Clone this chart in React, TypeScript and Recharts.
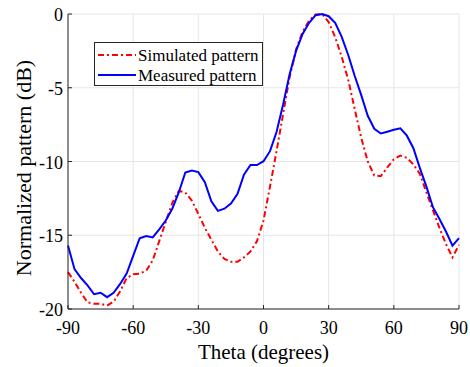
import React from "react";
import { LineChart, Line, XAxis, YAxis, CartesianGrid, Label } from "recharts";

const thetas = [-90,-87,-84,-81,-78,-75,-72,-69,-66,-63,-60,-57,-54,-51,-48,-45,-42,-39,-36,-33,-30,-27,-24,-21,-18,-15,-12,-9,-6,-3,0,3,6,9,12,15,18,21,24,27,30,33,36,39,42,45,48,51,54,57,60,63,66,69,72,75,78,81,84,87,90];
const measured = [-15.7,-17.3,-17.9,-18.4,-19.0,-18.9,-19.2,-18.9,-18.3,-17.6,-16.4,-15.2,-15.05,-15.15,-14.6,-14.0,-13.2,-12.1,-10.75,-10.62,-10.72,-11.4,-12.7,-13.35,-13.2,-12.85,-12.2,-10.9,-10.24,-10.24,-9.98,-9.3,-8.0,-6.15,-4.1,-2.5,-1.35,-0.6,-0.08,0,-0.15,-0.6,-1.55,-2.78,-4.2,-5.5,-6.9,-7.78,-8.1,-7.98,-7.85,-7.75,-8.25,-9.1,-10.45,-11.7,-13.1,-13.9,-14.75,-15.7,-15.2];
const simulated = [-17.5,-18.15,-18.9,-19.55,-19.65,-19.65,-19.77,-19.5,-18.8,-17.9,-17.65,-17.6,-17.4,-16.7,-15.4,-14.1,-12.8,-12.0,-12.1,-12.65,-13.55,-14.5,-15.3,-16.1,-16.6,-16.8,-16.8,-16.5,-16.1,-15.4,-14.0,-11.7,-9.3,-6.8,-4.3,-2.4,-1.2,-0.45,-0.03,0,-0.55,-1.57,-2.9,-4.47,-6.45,-8.4,-10.0,-10.95,-11.0,-10.4,-9.85,-9.6,-9.75,-10.2,-10.85,-12.1,-13.3,-14.5,-15.6,-16.5,-15.66];
const xTicks = [-90,-60,-30,0,30,60,90];
const yTicks = [-20,-15,-10,-5,0];
const seriesNames = ["Simulated pattern", "Measured pattern"];

const data = thetas.map((t, i) => ({ theta: t, sim: simulated[i], meas: measured[i] }));

const FONT = "'Liberation Serif', 'Times New Roman', Times, serif";
const AX = "#262626";

const BottomTick = (p: any) => (
  <g>
    <line x1={p.x} y1={p.y} x2={p.x} y2={p.y - 4} stroke={AX} />
    <text x={p.x} y={p.y + 25} textAnchor="middle" fontSize={18} fontFamily={FONT} fill="#000">{p.payload.value}</text>
  </g>
);
const TopTick = (p: any) => (
  <g><line x1={p.x} y1={p.y} x2={p.x} y2={p.y + 4} stroke={AX} /></g>
);
const LeftTick = (p: any) => (
  <g>
    <line x1={p.x} y1={p.y} x2={p.x + 4} y2={p.y} stroke={AX} />
    <text x={p.x - 5} y={p.y + 7} textAnchor="end" fontSize={18} fontFamily={FONT} fill="#000">{p.payload.value}</text>
  </g>
);
const RightTick = (p: any) => (
  <g><line x1={p.x} y1={p.y} x2={p.x - 4} y2={p.y} stroke={AX} /></g>
);

const LegendBox = () => (
  <div style={{ position: "absolute", left: 94, top: 42, width: 169, height: 44, border: `1px solid ${AX}`, background: "#fff", boxSizing: "border-box" }}>
    <svg width={167} height={42} style={{ position: "absolute", left: 0, top: 0 }}>
      <line x1={3} y1={12} x2={41} y2={12} stroke="#ff0000" strokeWidth={2} strokeDasharray="6 3 2 3" />
      <text x={43} y={18} fontSize={17} fontFamily={FONT} fill="#000">{seriesNames[0]}</text>
      <line x1={3} y1={32} x2={41} y2={32} stroke="#0000ff" strokeWidth={2} />
      <text x={43} y={38} fontSize={17} fontFamily={FONT} fill="#000">{seriesNames[1]}</text>
    </svg>
  </div>
);

export default function App() {
  return (
    <div style={{ position: "absolute", left: 0, top: 0, width: 470, height: 367, background: "#fff" }}>
      <LineChart width={470} height={367} data={data} margin={{ top: 14, right: 11, left: 0, bottom: 0 }}>
        <CartesianGrid stroke="#e6e6e6" strokeWidth={1} />
        <XAxis dataKey="theta" type="number" domain={[-90, 90]} ticks={xTicks} xAxisId={0}
          height={58} tickSize={0} tickMargin={0} axisLine={{ stroke: AX }} tickLine={false} tick={<BottomTick />} interval={0}>
          <Label content={(props: any) => {
            const vb = props.viewBox;
            return <text x={vb.x + vb.width / 2} y={359} textAnchor="middle" fontSize={21} fontFamily={FONT} fill="#000">Theta (degrees)</text>;
          }} />
        </XAxis>
        <XAxis dataKey="theta" type="number" domain={[-90, 90]} ticks={xTicks} xAxisId="top" orientation="top"
          height={0} tickSize={0} tickMargin={0} axisLine={{ stroke: AX }} tickLine={false} tick={<TopTick />} interval={0} />
        <YAxis type="number" domain={[-20, 0]} ticks={yTicks} yAxisId={0} width={68}
          tickSize={0} tickMargin={0} axisLine={{ stroke: AX }} tickLine={false} tick={<LeftTick />} interval={0}>
          <Label content={() => {
            const cx = 31;
            const cy = 168;
            return <text x={cx} y={cy} transform={`rotate(-90, ${cx}, ${cy})`} textAnchor="middle" fontSize={22} fontFamily={FONT} fill="#000">Normalized pattern (dB)</text>;
          }} />
        </YAxis>
        <YAxis type="number" domain={[-20, 0]} ticks={yTicks} yAxisId="right" orientation="right" width={0}
          tickSize={0} tickMargin={0} axisLine={{ stroke: AX }} tickLine={false} tick={<RightTick />} interval={0} />
        <Line type="linear" dataKey="sim" xAxisId={0} yAxisId={0} stroke="#ff0000" strokeWidth={2} strokeDasharray="6 3 2 3" dot={false} isAnimationActive={false} name={seriesNames[0]} />
        <Line type="linear" dataKey="meas" xAxisId={0} yAxisId={0} stroke="#0000ff" strokeWidth={2} dot={false} isAnimationActive={false} name={seriesNames[1]} />
      </LineChart>
      <LegendBox />
    </div>
  );
}
